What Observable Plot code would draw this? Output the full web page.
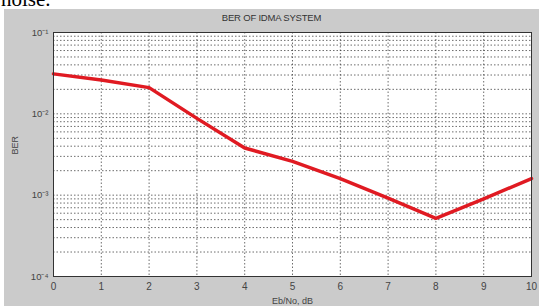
<!DOCTYPE html>
<html>
<head>
<meta charset="utf-8">
<script src="https://cdn.jsdelivr.net/npm/d3@7"></script>
<script src="https://cdn.jsdelivr.net/npm/@observablehq/plot@0.6"></script>
<style>
  html, body { margin: 0; padding: 0; background: #fff; width: 539px; height: 306px; overflow: hidden; }
  #noise { position: absolute; left: 1px; top: -11px; font-family: "Liberation Serif", serif; font-size: 21px; color: #000; line-height: 21px; }
  #fig { position: absolute; left: 4px; top: 9px; width: 535px; height: 297px; background: #cbcbcb; }
  #title { position: absolute; left: 0; width: 535px; top: 3px; text-align: center; font-family: "Liberation Sans", Arial, sans-serif; font-size: 9.5px; color: #333; letter-spacing: -0.2px; }
  #chart { position: absolute; left: 0; top: 0; }
</style>
</head>
<body>
<div id="noise">noise.</div>
<div id="fig">
  <div id="title">BER OF IDMA SYSTEM</div>
  <div id="chart"></div>
</div>
<script>
const ebno = [0, 1, 2, 3, 4, 5, 6, 7, 8, 9, 10];
const ber = [0.031, 0.026, 0.021, 0.0088, 0.0038, 0.0026, 0.0016, 0.00092, 0.00052, 0.0009, 0.0016];
const xTicks = [0, 1, 2, 3, 4, 5, 6, 7, 8, 9, 10];
const yTicks = [1e-4, 1e-3, 1e-2, 1e-1];
const yTickLabels = ["10\u207B\u2074", "10\u207B\u00B3", "10\u207B\u00B2", "10\u207B\u00B9"];
const xLabel = "Eb/No, dB";
const yLabel = "BER";

const data = ebno.map((x, i) => ({x, y: ber[i]}));
const gridY = [];
for (const d of [1e-4, 1e-3, 1e-2]) for (let k = 1; k <= 9; k++) gridY.push(k * d);
gridY.push(1e-1);

const plot = Plot.plot({
  width: 535,
  height: 297,
  marginLeft: 49,
  marginTop: 23,
  marginRight: 8,
  marginBottom: 30,
  style: { background: "transparent", fontFamily: "Liberation Sans, Arial, sans-serif", fontSize: "8px", color: "#333" },
  x: { domain: [0, 10], label: null },
  y: { type: "log", domain: [1e-4, 1e-1], label: null },
  marks: [
    Plot.frame({ fill: "white", stroke: null }),
    Plot.ruleY(gridY, { stroke: "#333", strokeWidth: 0.9, strokeDasharray: "1.5,2", strokeOpacity: 0.8 }),
    Plot.ruleX(xTicks.slice(1, -1), { stroke: "#333", strokeWidth: 0.9, strokeDasharray: "1.5,2", strokeOpacity: 0.8 }),
    Plot.line(data, { x: "x", y: "y", stroke: "#e01a22", strokeWidth: 3.5, strokeLinejoin: "round" }),
    Plot.frame({ stroke: "#333", strokeWidth: 1 }),
    Plot.axisX({ ticks: xTicks, tickSize: 0, tickPadding: 6, tickFormat: d => String(d), fontSize: 10, fill: "#444" }),
    Plot.axisY({ ticks: yTicks, tickSize: 0, tickPadding: 5, tickFormat: (d) => yTickLabels[yTicks.indexOf(d)], fontSize: 9.5, fill: "#444" }),
    Plot.text([xLabel], { frameAnchor: "bottom", dy: 27, text: d => d, fontSize: 9, fill: "#444" }),
    Plot.text([yLabel], { frameAnchor: "left", dx: -38, rotate: -90, text: d => d, fontSize: 9, fill: "#444" })
  ]
});
document.getElementById("chart").appendChild(plot);
</script>
</body>
</html>
